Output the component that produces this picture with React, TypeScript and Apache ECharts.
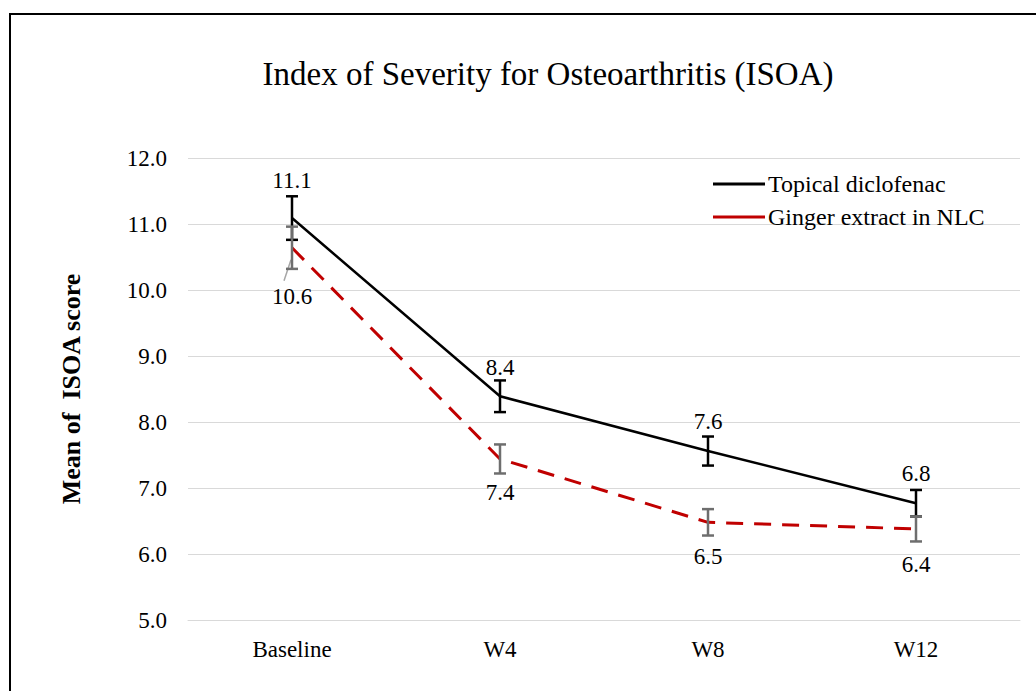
import React, { useEffect, useRef } from "react";
import * as echarts from "echarts";

const categories = ["Baseline", "W4", "W8", "W12"];
const topicalMean = [11.09, 8.39, 7.56, 6.77];
const topicalErr = [0.33, 0.24, 0.22, 0.2];
const gingerMean = [10.64, 7.44, 6.48, 6.38];
const gingerErr = [0.32, 0.22, 0.2, 0.19];
const seriesNames = ["Topical diclofenac", "Ginger extract in NLC"];
const topicalLabelDist = [26, 17, 18, 18];
const gingerLabelDist = [37, 22, 23, 24];

const FONT = "Liberation Serif";

function errorSeries(name: string, mean: number[], err: number[], color: string) {
  return {
    name: name + " err",
    type: "custom",
    z: 5,
    silent: true,
    data: mean.map((m, i) => [i, m - err[i], m + err[i]]),
    encode: { x: 0, y: [1, 2] },
    renderItem: (params: any, api: any) => {
      const idx = api.value(0);
      const lo = api.coord([idx, api.value(1)]);
      const hi = api.coord([idx, api.value(2)]);
      const hw = 6;
      const style = { stroke: color, lineWidth: 2.5 };
      return {
        type: "group",
        children: [
          { type: "line", shape: { x1: lo[0], y1: lo[1], x2: hi[0], y2: hi[1] }, style },
          { type: "line", shape: { x1: lo[0] - hw, y1: lo[1], x2: lo[0] + hw, y2: lo[1] }, style },
          { type: "line", shape: { x1: hi[0] - hw, y1: hi[1], x2: hi[0] + hw, y2: hi[1] }, style },
        ],
      };
    },
  };
}

function labelSeries(name: string, mean: number[], dist: number[], pos: string) {
  return {
    name: name + " labels",
    type: "custom",
    silent: true,
    z: 6,
    data: mean.map((v, i) => [i, v, dist[i]]),
    encode: { x: 0, y: 1 },
    renderItem: (params: any, api: any) => {
      const pt = api.coord([api.value(0), api.value(1)]);
      const d = api.value(2);
      const up = pos === "top";
      return {
        type: "text",
        x: pt[0],
        y: up ? pt[1] - d : pt[1] + d,
        style: {
          text: Number(api.value(1)).toFixed(1),
          fill: "#000",
          font: "23px 'Liberation Serif'",
          align: "center",
          verticalAlign: up ? "bottom" : "top",
        },
      };
    },
  };
}

export default function App() {
  const ref = useRef<HTMLDivElement>(null);
  useEffect(() => {
    document.body.style.margin = "0";
    const chart = echarts.init(ref.current!, null, { renderer: "svg" });
    chart.setOption({
      animation: false,
      textStyle: { fontFamily: FONT },
      title: {
        text: "Index of Severity for Osteoarthritis (ISOA)",
        left: 543,
        textAlign: "center",
        top: 52,
        textStyle: { fontFamily: FONT, fontSize: 33, fontWeight: "normal", color: "#000" },
      },
      legend: {
        left: 708,
        top: 167,
        orient: "vertical",
        icon: "rect",
        itemWidth: 52,
        itemHeight: 3,
        itemGap: 9,
        data: [
          { name: seriesNames[0], itemStyle: { color: "#000", opacity: 1 } },
          { name: seriesNames[1], itemStyle: { color: "#C00000", opacity: 1 } },
        ],
        textStyle: { fontFamily: FONT, fontSize: 24, color: "#000", padding: [0, 0, 0, -2] },
      },
      grid: { left: 188, right: 16, top: 158, bottom: 71 },
      xAxis: {
        type: "category",
        data: categories,
        boundaryGap: true,
        axisLine: { show: true, lineStyle: { color: "#d9d9d9", width: 1 } },
        axisTick: { show: false },
        axisLabel: { fontFamily: FONT, fontSize: 23, color: "#000", margin: 18 },
      },
      yAxis: {
        type: "value",
        min: 5,
        max: 12,
        interval: 1,
        name: "Mean of  ISOA score",
        nameLocation: "middle",
        nameGap: 104,
        nameTextStyle: { fontFamily: FONT, fontSize: 26, fontWeight: "bold", color: "#000" },
        axisLine: { show: false },
        axisTick: { show: false },
        axisLabel: {
          fontFamily: FONT,
          fontSize: 23,
          color: "#000",
          margin: 21,
          formatter: (v: number) => v.toFixed(1),
        },
        splitLine: { lineStyle: { color: "#d9d9d9", width: 1 } },
      },
      series: [
        {
          name: seriesNames[0],
          type: "line",
          data: topicalMean,
          symbol: "none",
          lineStyle: { color: "#000", width: 2.5 },
          itemStyle: { color: "#000" },
          z: 3,
        },
        {
          name: seriesNames[1],
          type: "line",
          data: gingerMean,
          symbol: "none",
          lineStyle: { color: "#C00000", width: 3, type: [17, 11] },
          itemStyle: { color: "#C00000" },
          z: 2,
        },
        errorSeries(seriesNames[0], topicalMean, topicalErr, "#000"),
        errorSeries(seriesNames[1], gingerMean, gingerErr, "#6e6e6e"),
        labelSeries(seriesNames[0], topicalMean, topicalLabelDist, "top"),
        labelSeries(seriesNames[1], gingerMean, gingerLabelDist, "bottom"),
      ],
    });
    const p = chart.convertToPixel({ seriesIndex: 1 }, [0, gingerMean[0]]) as number[];
    chart.setOption({
      graphic: [
        {
          type: "rect",
          shape: { x: 10, y: 14, width: 1100, height: 800 },
          style: { fill: "none", stroke: "#000", lineWidth: 2 },
          silent: true,
        },
        {
          type: "line",
          shape: { x1: p[0] - 8, y1: p[1] + 33, x2: p[0] - 1, y2: p[1] + 12 },
          style: { stroke: "#a6a6a6", lineWidth: 1.5 },
          silent: true,
        },
      ],
    });
    return () => chart.dispose();
  }, []);
  return <div ref={ref} style={{ width: 1036, height: 691 }} />;
}
